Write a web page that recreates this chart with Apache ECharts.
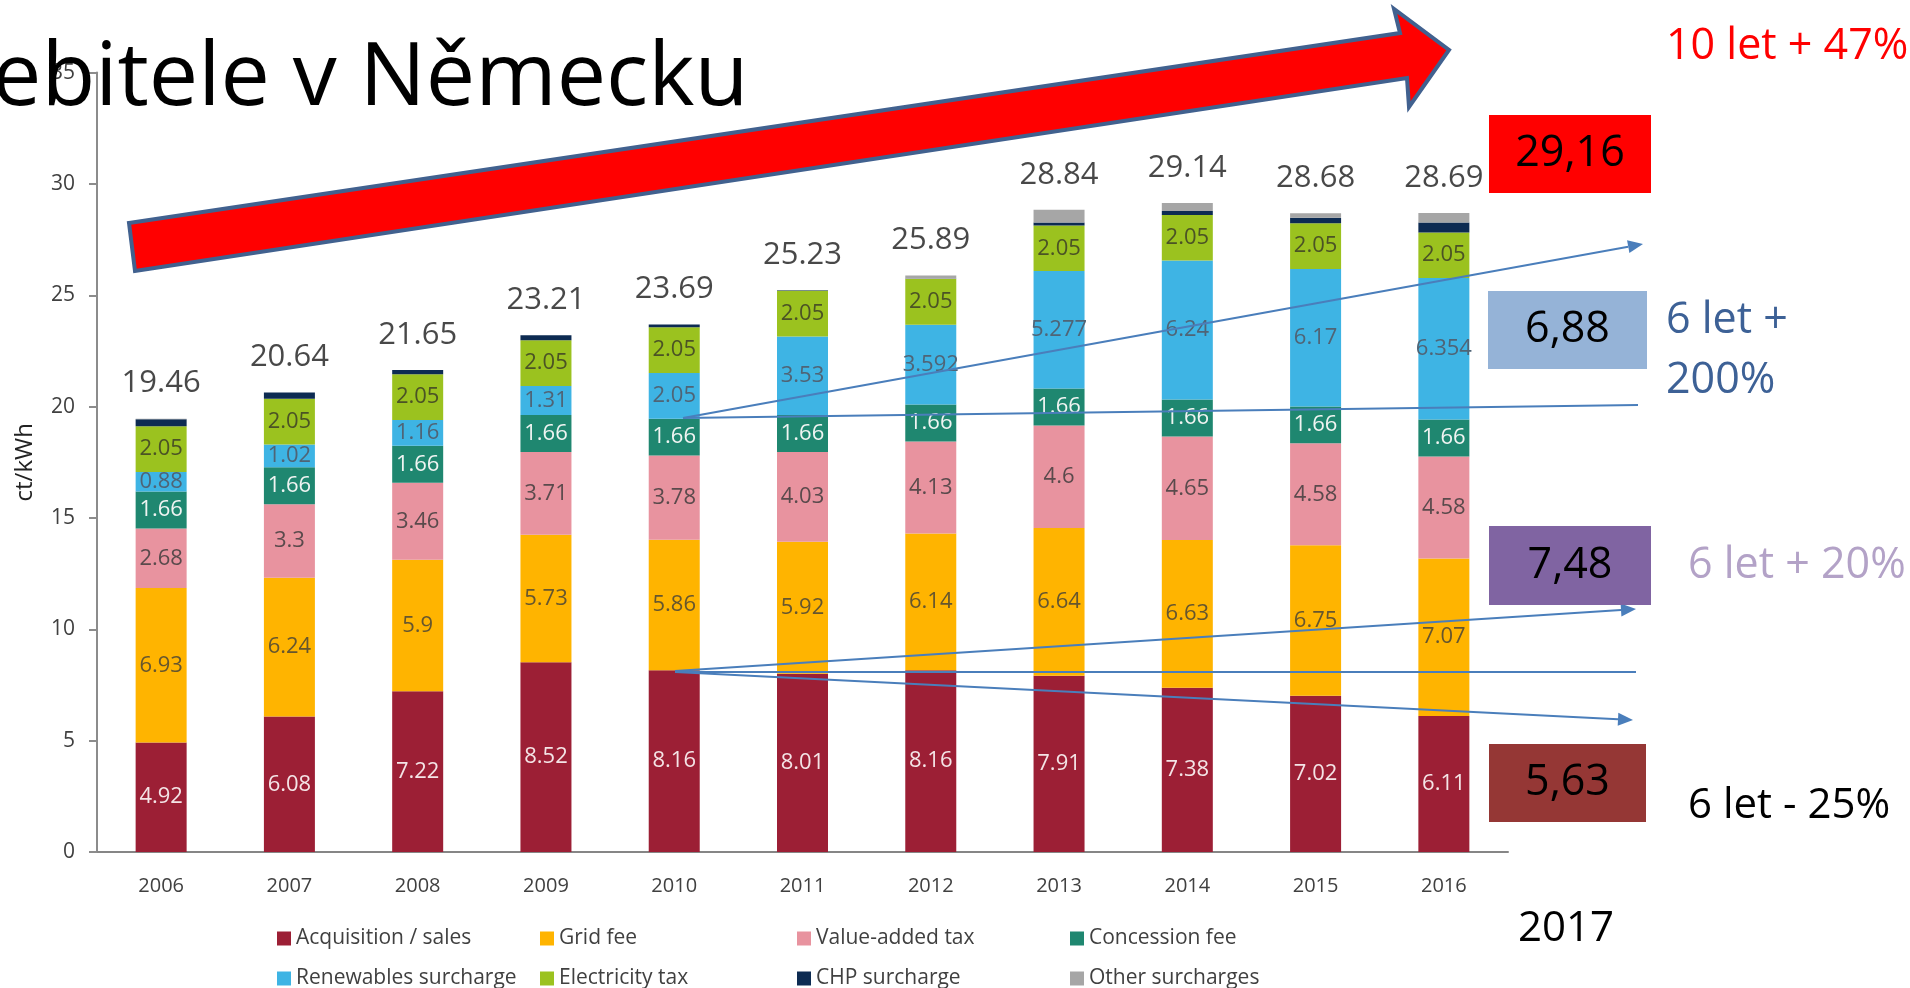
<!DOCTYPE html>
<html>
<head>
<meta charset="utf-8">
<title>Ceny elektřiny v Německu</title>
<script src="https://cdn.jsdelivr.net/npm/echarts@6/dist/echarts.min.js"></script>
<style>
  html, body { margin: 0; padding: 0; background: #fff; }
  #chart { width: 1910px; height: 988px; }
</style>
</head>
<body>
<div id="chart"></div>
<script>
// data (ct/kWh)
var years = ['2006', '2007', '2008', '2009', '2010', '2011', '2012', '2013', '2014', '2015', '2016'];
var acquisition = [4.92, 6.08, 7.22, 8.52, 8.16, 8.01, 8.16, 7.91, 7.38, 7.02, 6.11];
var gridFee = [6.93, 6.24, 5.9, 5.73, 5.86, 5.92, 6.14, 6.64, 6.63, 6.75, 7.07];
var vat = [2.68, 3.3, 3.46, 3.71, 3.78, 4.03, 4.13, 4.6, 4.65, 4.58, 4.58];
var concession = [1.66, 1.66, 1.66, 1.66, 1.66, 1.66, 1.66, 1.66, 1.66, 1.66, 1.66];
var renewables = [0.88, 1.02, 1.16, 1.31, 2.05, 3.53, 3.592, 5.277, 6.24, 6.17, 6.354];
var electricityTax = [2.05, 2.05, 2.05, 2.05, 2.05, 2.05, 2.05, 2.05, 2.05, 2.05, 2.05];
var chp = [0.31, 0.29, 0.2, 0.23, 0.13, 0.03, 0.01, 0.13, 0.18, 0.25, 0.45];
var other = [0.03, 0, 0, 0, 0, 0, 0.15, 0.57, 0.35, 0.2, 0.42];
var totals = [19.46, 20.64, 21.65, 23.21, 23.69, 25.23, 25.89, 28.84, 29.14, 28.68, 28.69];
var yTicks = [0, 35, 5]; // min, max, interval

var FONT = '"Open Sans", "Noto Sans", sans-serif';
var BLUE = '#4A7EBB';

function segment(name, data, color, labelColor) {
    return {
        name: name,
        type: 'bar',
        stack: 'price',
        barWidth: 51,
        data: data,
        itemStyle: { color: color },
        label: labelColor ? {
            show: true,
            position: 'inside',
            color: labelColor,
            fontSize: 22,
            fontFamily: FONT
        } : { show: false }
    };
}

// thin blue arrow used for the annotations
function arrow(x1, y1, x2, y2, head) {
    var a = Math.atan2(y2 - y1, x2 - x1), L = 15, W = 6.5;
    var bx = head ? x2 - L * Math.cos(a) : x2, by = head ? y2 - L * Math.sin(a) : y2;
    var els = [{ type: 'line', z: 100, shape: { x1: x1, y1: y1, x2: bx, y2: by }, style: { stroke: BLUE, lineWidth: 2 } }];
    if (head) {
        els.push({
            type: 'polygon', z: 100,
            shape: { points: [[x2, y2], [bx - W * Math.sin(a), by + W * Math.cos(a)], [bx + W * Math.sin(a), by - W * Math.cos(a)]] },
            style: { fill: BLUE }
        });
    }
    return els;
}

function txt(text, x, y, size, color, align) {
    return {
        type: 'text', z: 110,
        style: {
            text: text, x: x, y: y, fill: color,
            font: size + 'px ' + FONT,
            align: align || 'left', textAlign: align || 'left',
            verticalAlign: 'middle', textVerticalAlign: 'middle'
        }
    };
}

function box(x, y, w, h, fill, text) {
    return [
        { type: 'rect', z: 105, shape: { x: x, y: y, width: w, height: h }, style: { fill: fill } },
        txt(text, x + w / 2, y + h / 2, 43, '#000', 'center')
    ];
}

var graphics = [
    // big red arrow
    {
        type: 'polygon', z: 90,
        shape: { points: [[129, 223], [1400, 33], [1394, 9], [1449, 50], [1409, 107], [1407, 78], [135, 271]] },
        style: { fill: '#FF0000', stroke: '#41618F', lineWidth: 4, lineJoin: 'miter' }
    },
    txt('ebitele v Německu', -8, 80, 88, '#000', 'left'),
    txt('10 let + 47%', 1666, 47, 43, '#FF0000', 'left'),
    txt('6 let +', 1666, 321, 43, '#3D6196', 'left'),
    txt('200%', 1666, 381, 43, '#3D6196', 'left'),
    txt('6 let + 20%', 1688, 566, 43, '#B3A2C7', 'left'),
    txt('6 let - 25%', 1688, 806, 42, '#000', 'left'),
    txt('2017', 1566, 929, 42, '#000', 'center')
]
    .concat(box(1489, 115, 162, 78, '#FF0000', '29,16'))
    .concat(box(1488, 291, 159, 78, '#95B3D7', '6,88'))
    .concat(box(1489, 526, 162, 79, '#8064A2', '7,48'))
    .concat(box(1489, 744, 157, 78, '#953735', '5,63'))
    .concat(arrow(683, 418, 1643, 244, true))
    .concat(arrow(683, 418, 1638, 405, false))
    .concat(arrow(675, 671, 1636, 609, true))
    .concat(arrow(675, 672, 1636, 672, false))
    .concat(arrow(675, 672, 1633, 720, true));

function legendCol(left, names) {
    return {
        orient: 'vertical',
        left: left,
        top: 928,
        height: 70,
        padding: 0,
        itemWidth: 14,
        itemHeight: 14,
        itemGap: 19,
        icon: 'rect',
        data: names,
        textStyle: { fontSize: 21, lineHeight: 16, color: '#404040', fontFamily: FONT }
    };
}

var chart = echarts.init(document.getElementById('chart'));
chart.setOption({
    animation: false,
    backgroundColor: '#fff',
    textStyle: { fontFamily: FONT },
    grid: { left: 97, right: 402, top: 72.6, bottom: 136 },
    legend: [
        legendCol(277, ['Acquisition / sales', 'Renewables surcharge']),
        legendCol(540, ['Grid fee', 'Electricity tax']),
        legendCol(797, ['Value-added tax', 'CHP surcharge']),
        legendCol(1070, ['Concession fee', 'Other surcharges'])
    ],
    xAxis: {
        type: 'category',
        data: years,
        axisLine: { lineStyle: { color: '#868686', width: 2 } },
        axisTick: { show: false },
        axisLabel: { color: '#404040', fontSize: 20, margin: 24 }
    },
    yAxis: {
        type: 'value',
        min: yTicks[0],
        max: yTicks[1],
        interval: yTicks[2],
        name: 'ct/kWh',
        nameLocation: 'middle',
        nameGap: 60,
        nameRotate: 90,
        nameTextStyle: { color: '#222', fontSize: 24 },
        axisLine: { show: true, lineStyle: { color: '#8c8c8c', width: 2 } },
        axisTick: { show: true, length: 8, lineStyle: { color: '#8c8c8c', width: 2 } },
        splitLine: { show: false },
        axisLabel: { color: '#404040', fontSize: 21, margin: 22 }
    },
    series: [
        segment('Acquisition / sales', acquisition, '#9C1F35', '#F4E4E6'),
        segment('Grid fee', gridFee, '#FFB400', '#66562E'),
        segment('Value-added tax', vat, '#E8939F', '#5A4A4C'),
        segment('Concession fee', concession, '#1F8770', '#F0F4F2'),
        segment('Renewables surcharge', renewables, '#3EB4E4', '#4F6476'),
        segment('Electricity tax', electricityTax, '#9BC21F', '#4B5325'),
        segment('CHP surcharge', chp, '#0D2B52', null),
        segment('Other surcharges', other, '#A6A6A6', null),
        {
            name: 'Total',
            type: 'scatter',
            data: totals,
            symbolSize: 1,
            itemStyle: { color: 'rgba(0,0,0,0)' },
            label: {
                show: true,
                position: 'top',
                distance: 19,
                color: '#1a1a1a',
                fontSize: 31,
                fontFamily: FONT
            },
            z: 5
        }
    ],
    graphic: graphics
});
</script>
</body>
</html>
